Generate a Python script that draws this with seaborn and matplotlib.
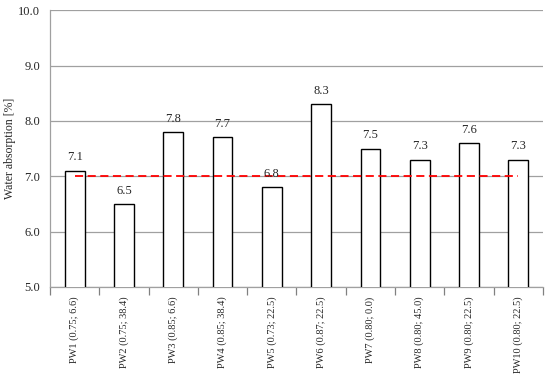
import matplotlib
matplotlib.use("Agg")
import matplotlib.pyplot as plt
import seaborn as sns
import pandas as pd
import numpy as np

categories = ["PW1 (0.75; 6.6)", "PW2 (0.75; 38.4)", "PW3 (0.85; 6.6)", "PW4 (0.85; 38.4)",
              "PW5 (0.73; 22.5)", "PW6 (0.87; 22.5)", "PW7 (0.80; 0.0)", "PW8 (0.80; 45.0)",
              "PW9 (0.80; 22.5)", "PW10 (0.80; 22.5)"]
values = [7.1, 6.5, 7.8, 7.7, 6.8, 8.3, 7.5, 7.3, 7.6, 7.3]
limit_value = 7.0
y_ticks = [5.0, 6.0, 7.0, 8.0, 9.0, 10.0]

sns.set_theme(style="white")
plt.rcParams['font.family'] = ['Liberation Serif', 'DejaVu Serif']

df = pd.DataFrame({"cat": categories, "val": values})

fig = plt.figure(figsize=(5.5, 3.77), dpi=100)
ax = fig.add_axes([0.091, 0.239, 0.896, 0.734])

sns.barplot(data=df, x="cat", y="val", ax=ax, color="white", edgecolor="black",
            linewidth=1.0, width=0.4, zorder=3)

ax.set_ylim(5.0, 10.0)
ax.set_xlim(-0.5, len(categories) - 0.5)
ax.set_yticks(y_ticks)
ax.set_yticklabels([f"{t:.1f}" for t in y_ticks], fontsize=9)
ax.yaxis.grid(True, color="#a0a0a0", linewidth=0.9, zorder=0)
ax.set_axisbelow(True)

ax.set_xticks(range(len(categories)))
ax.set_xticklabels(categories, rotation=90, fontsize=7.5)
ax.set_xticks(np.arange(-0.5, len(categories), 1.0), minor=True)
ax.tick_params(axis="x", which="major", length=0, pad=7)
ax.tick_params(axis="x", which="minor", length=6, color="#808080", width=0.9, bottom=True)
ax.tick_params(axis="y", length=0, pad=7)

for s in ["top", "right"]:
    ax.spines[s].set_visible(False)
for s in ["left", "bottom"]:
    ax.spines[s].set_color("#a0a0a0")
    ax.spines[s].set_linewidth(0.9)

ax.set_xlabel("")
ax.set_ylabel("Water absorption [%]", fontsize=8.5, labelpad=2)

for i, v in enumerate(values):
    ax.text(i, v + 0.13, f"{v:.1f}", ha="center", va="bottom", fontsize=9, zorder=5)

ax.plot([0, len(categories) - 1], [limit_value, limit_value], color="red",
        linestyle=(0, (4.5, 2.5)), linewidth=1.3, zorder=4)

fig.savefig("out.png", dpi=100)
